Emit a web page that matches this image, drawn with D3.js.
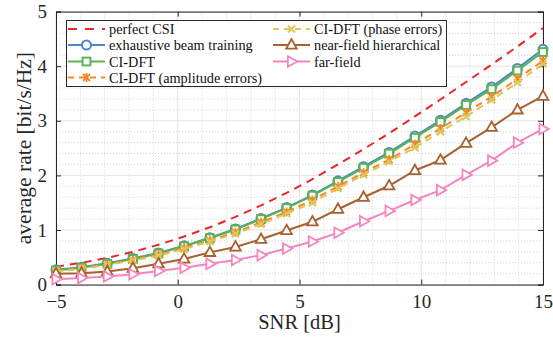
<!DOCTYPE html>
<html><head><meta charset="utf-8">
<script src="https://cdn.jsdelivr.net/npm/d3@7"></script>
<style>body{margin:0;background:#fff}svg{display:block}text{font-family:"Liberation Serif","DejaVu Serif",serif}</style>
</head><body><svg id="c" width="553" height="347"></svg>
<script>
const snr = [-5,-3.95,-2.89,-1.84,-0.79,0.26,1.32,2.37,3.42,4.47,5.53,6.58,7.63,8.68,9.74,10.79,11.84,12.89,13.95,15];
const perfectCSI = [0.33,0.40,0.49,0.60,0.73,0.88,1.05,1.24,1.45,1.68,1.93,2.20,2.48,2.77,3.08,3.39,3.71,4.03,4.36,4.70];
const exhaustive = [0.27,0.32,0.39,0.48,0.58,0.71,0.86,1.02,1.21,1.41,1.64,1.90,2.16,2.42,2.72,3.01,3.32,3.62,3.96,4.31];
const ciDFT = [0.26,0.31,0.38,0.47,0.57,0.70,0.85,1.01,1.20,1.40,1.63,1.88,2.14,2.40,2.69,2.98,3.29,3.58,3.92,4.26];
const ciDFTamp = [0.25,0.30,0.37,0.45,0.55,0.67,0.81,0.96,1.14,1.33,1.55,1.80,2.05,2.29,2.57,2.86,3.15,3.44,3.77,4.10];
const ciDFTphase = [0.24,0.29,0.36,0.44,0.53,0.65,0.79,0.93,1.11,1.30,1.50,1.76,2.01,2.25,2.51,2.80,3.08,3.38,3.70,4.04];
const nearField = [0.20,0.21,0.24,0.30,0.38,0.47,0.59,0.69,0.83,0.99,1.15,1.38,1.60,1.81,2.09,2.28,2.59,2.88,3.20,3.45];
const farField = [0.10,0.12,0.15,0.19,0.25,0.31,0.38,0.45,0.54,0.66,0.79,0.95,1.16,1.35,1.55,1.73,2.01,2.27,2.60,2.85];
const xTicks = [-5,0,5,10,15];
const yTicks = [0,1,2,3,4,5];
const names = ["perfect CSI","exhaustive beam training","CI-DFT","CI-DFT (amplitude errors)","CI-DFT (phase errors)","near-field hierarchical","far-field"];

const series = [
  {name:names[0], v:perfectCSI, color:"#e8262b", dash:"8,6", marker:null},
  {name:names[1], v:exhaustive, color:"#4a88c7", dash:null, marker:"circle"},
  {name:names[2], v:ciDFT, color:"#5bb352", dash:null, marker:"square"},
  {name:names[3], v:ciDFTamp, color:"#f7862a", dash:"7,5", marker:"asterisk"},
  {name:names[4], v:ciDFTphase, color:"#dcc75a", dash:"7,5", marker:"x"},
  {name:names[5], v:nearField, color:"#a8602f", dash:null, marker:"triangle"},
  {name:names[6], v:farField, color:"#f585c0", dash:null, marker:"tri-right"}
];

const W=553,H=347, m={l:56,r:10,t:11.6,b:62.4};
const svg=d3.select("#c");
const x=d3.scaleLinear().domain([-5,15]).range([m.l,W-m.r]);
const y=d3.scaleLinear().domain([0,5]).range([H-m.b,m.t]);

// minor grid
const g=svg.append("g");
g.selectAll(".mx").data(d3.range(-4,15,1).filter(v=>v%5!==0)).join("line")
  .attr("x1",d=>x(d)).attr("x2",d=>x(d)).attr("y1",y(0)).attr("y2",y(5))
  .attr("stroke","#d4d4d4").attr("stroke-width",1).attr("stroke-dasharray","1,2");
g.selectAll(".my").data(d3.range(0.2,5,0.2).filter(v=>Math.abs(v-Math.round(v))>0.01)).join("line")
  .attr("y1",d=>y(d)).attr("y2",d=>y(d)).attr("x1",x(-5)).attr("x2",x(15))
  .attr("stroke","#d4d4d4").attr("stroke-width",1).attr("stroke-dasharray","1,2");
// major grid
g.selectAll(".gx").data(xTicks).join("line")
  .attr("x1",d=>x(d)).attr("x2",d=>x(d)).attr("y1",y(0)).attr("y2",y(5))
  .attr("stroke","#e3e3e3").attr("stroke-width",1);
g.selectAll(".gy").data(yTicks).join("line")
  .attr("y1",d=>y(d)).attr("y2",d=>y(d)).attr("x1",x(-5)).attr("x2",x(15))
  .attr("stroke","#e3e3e3").attr("stroke-width",1);

// axes
const ax=svg.append("g");
const xb=d3.axisBottom(x).tickValues(xTicks).tickSize(-5).tickPadding(10).tickFormat(d3.format("d"));
const xt=d3.axisTop(x).tickValues(xTicks).tickSize(-5).tickFormat("");
const yl=d3.axisLeft(y).tickValues(yTicks).tickSize(-5).tickPadding(9).tickFormat(d3.format("d"));
const yr=d3.axisRight(y).tickValues(yTicks).tickSize(-5).tickFormat("");
ax.append("g").attr("transform",`translate(0,${y(0)})`).call(xb);
ax.append("g").attr("transform",`translate(0,${y(5)})`).call(xt);
ax.append("g").attr("transform",`translate(${x(-5)},0)`).call(yl);
ax.append("g").attr("transform",`translate(${x(15)},0)`).call(yr);
ax.selectAll(".domain").attr("stroke","#262626");
ax.selectAll(".tick line").attr("stroke","#262626");
ax.selectAll(".tick text").attr("font-size",19).attr("fill","#262626").attr("font-family","Liberation Serif");

// lines
const line=d3.line().x((d,i)=>x(snr[i])).y(d=>y(d));
function drawMarker(sel,type,color,cx,cy){
  const gm=sel.append("g").attr("transform",`translate(${cx},${cy})`);
  if(type==="circle") gm.append("circle").attr("r",4.5).attr("fill","#fff").attr("stroke",color).attr("stroke-width",2);
  else if(type==="square") gm.append("rect").attr("x",-3.9).attr("y",-3.9).attr("width",7.8).attr("height",7.8).attr("fill","#fff").attr("stroke",color).attr("stroke-width",2);
  else if(type==="triangle") gm.append("path").attr("d","M0,-5.8L5.3,3.6L-5.3,3.6Z").attr("fill","#fff").attr("stroke",color).attr("stroke-width",1.8);
  else if(type==="tri-right") gm.append("path").attr("d","M5.8,0L-3.6,5.3L-3.6,-5.3Z").attr("fill","#fff").attr("stroke",color).attr("stroke-width",1.8);
  else if(type==="x") gm.append("path").attr("d","M-3.5,-3.5L3.5,3.5M-3.5,3.5L3.5,-3.5").attr("stroke",color).attr("stroke-width",2);
  else if(type==="asterisk") gm.append("path").attr("d","M-3.5,-3.5L3.5,3.5M-3.5,3.5L3.5,-3.5M0,-4.5L0,4.5").attr("stroke",color).attr("stroke-width",1.8);
}
const ls=svg.append("g");
series.forEach(s=>{
  ls.append("path").datum(s.v).attr("d",line).attr("fill","none").attr("stroke",s.color)
    .attr("stroke-width",2).attr("stroke-dasharray",s.dash);
  if(s.marker) s.v.forEach((v,i)=>drawMarker(ls,s.marker,s.color,x(snr[i]),y(v)));
});

// legend
const lg=svg.append("g");
lg.append("rect").attr("x",66.5).attr("y",20.5).attr("width",380).attr("height",66).attr("fill","#fff").attr("stroke","#262626").attr("stroke-width",1);
const pos=[[0,0],[0,1],[0,2],[0,3],[1,0],[1,1],[1,2]];
const colX=[68,273], rowY=[29,45,61.5,77.5];
series.forEach((s,k)=>{
  const [c,r]=pos[k]; const x0=colX[c], yy=rowY[r];
  lg.append("line").attr("x1",x0).attr("x2",x0+37).attr("y1",yy).attr("y2",yy).attr("stroke",s.color)
    .attr("stroke-width",2).attr("stroke-dasharray",s.dash? (k===0?"9,8":"6,5"):null);
  if(s.marker) drawMarker(lg,s.marker,s.color,x0+18.5,yy);
  lg.append("text").attr("x",x0+41).attr("y",yy).attr("dy","0.35em").attr("font-size",14.3).attr("fill","#111").text(s.name);
});

// axis labels
svg.append("text").attr("x",x(5)).attr("y",329).attr("text-anchor","middle").attr("font-size",20.5).attr("fill","#262626").text("SNR [dB]");
svg.append("text").attr("transform",`translate(23,${(y(0)+y(5))/2}) rotate(-90)`).attr("text-anchor","middle").attr("dy","0.35em").attr("font-size",21.5).attr("fill","#262626").text("average rate [bit/s/Hz]");
</script></body></html>
